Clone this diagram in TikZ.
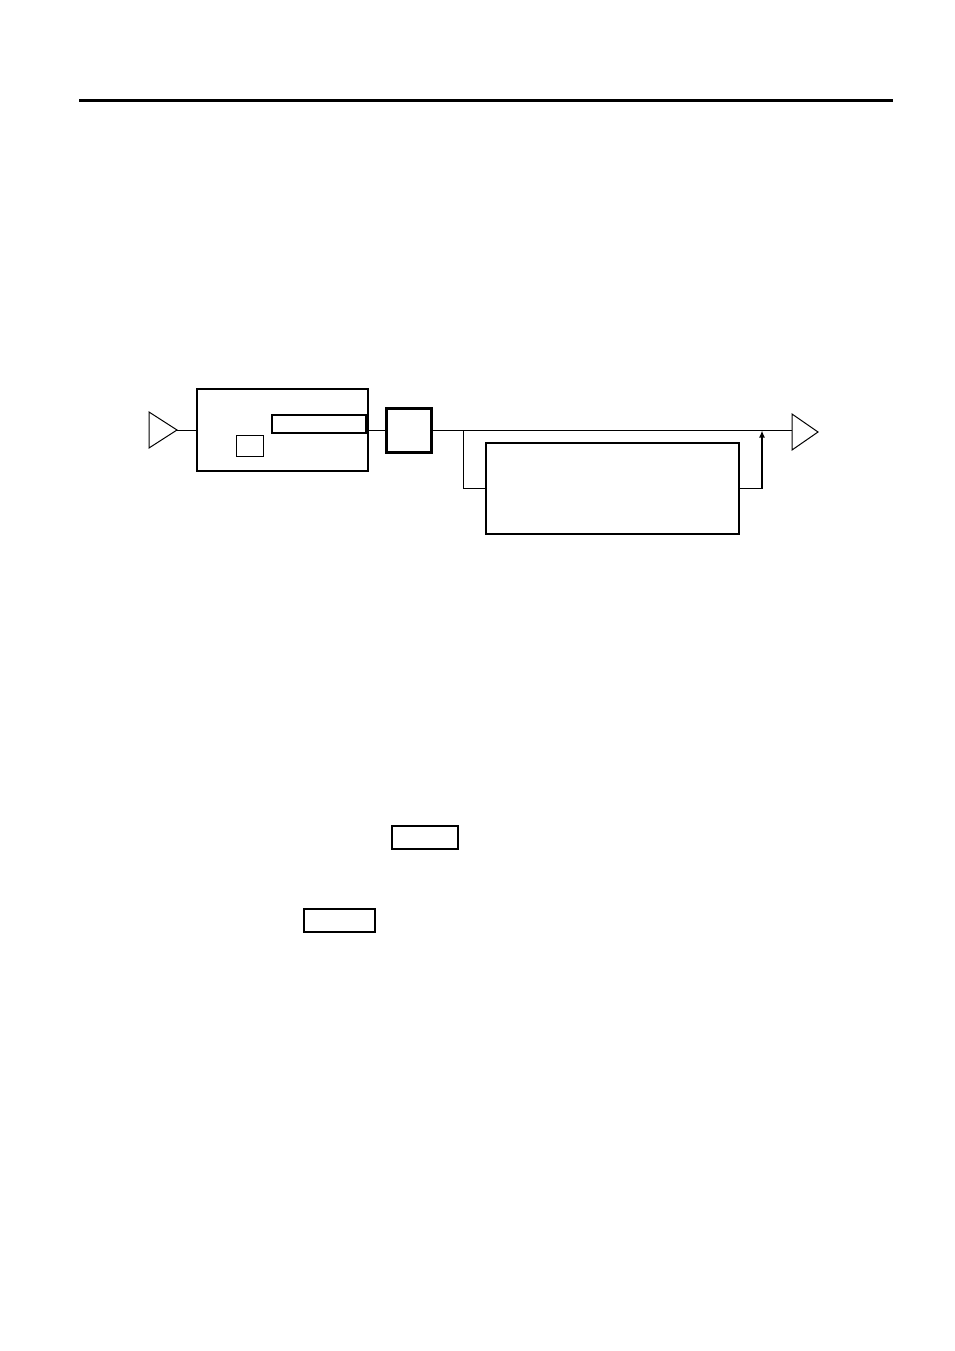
\documentclass[tikz,border=0pt]{standalone}
\usetikzlibrary{arrows.meta}
\begin{document}
\begin{tikzpicture}[x=1pt,y=-1pt,
  thinbox/.style={draw,line width=1pt,inner sep=0pt,minimum width=#1},
  wire/.style={line width=1pt},
  tri/.style={draw,line width=1pt,fill=white}]
\useasboundingbox (0,0) rectangle (954,1351);
\fill[white] (0,0) rectangle (954,1351);
% top rule
\draw[line width=3pt] (79,101) -- (893,101);
% input triangle
\draw[tri] (149,412) -- (177,430) -- (149,448) -- cycle;
\coordinate (inTip) at (177,430);
% big box
\node[draw,line width=2pt,minimum width=171pt,minimum height=82pt,inner sep=0pt] (big) at (282.5,430) {};
\node[draw,line width=1.6pt,minimum width=94pt,minimum height=17.5pt,inner sep=0pt] (long) at (319,424) {};
\node[draw,line width=1pt,minimum width=27pt,minimum height=21pt,inner sep=0pt] (small) at (249.5,445.5) {};
% thick square
\node[draw,line width=3pt,minimum width=45pt,minimum height=44pt,inner sep=0pt] (sq) at (409,430.5) {};
% lower box
\node[draw,line width=2pt,minimum width=253pt,minimum height=91pt,inner sep=0pt] (low) at (612.5,488.5) {};
% output triangle
\draw[tri] (792,414) -- (818,432) -- (792,450) -- cycle;
\coordinate (outL) at (792,430.5);
\coordinate (br) at (463.5,430.5);
\coordinate (jn) at (762,430.5);
% wires
\draw[wire] (inTip) -- (big.west |- inTip);
\draw[wire] (big.east |- 0,430) -- (sq.west |- 0,430);
\draw[wire] (sq.east |- outL) -- (outL);
\draw[wire] (br) |- (low.west);
\draw[line width=1.6pt,-{Latex[length=7pt,width=6pt]}] (low.east) -| (jn);
% bottom boxes
\node[draw,line width=2pt,minimum width=66pt,minimum height=23pt,inner sep=0pt] (b1) at (425,837.5) {};
\node[draw,line width=2pt,minimum width=71pt,minimum height=23pt,inner sep=0pt] (b2) at (339.5,920.5) {};
\end{tikzpicture}
\end{document}
